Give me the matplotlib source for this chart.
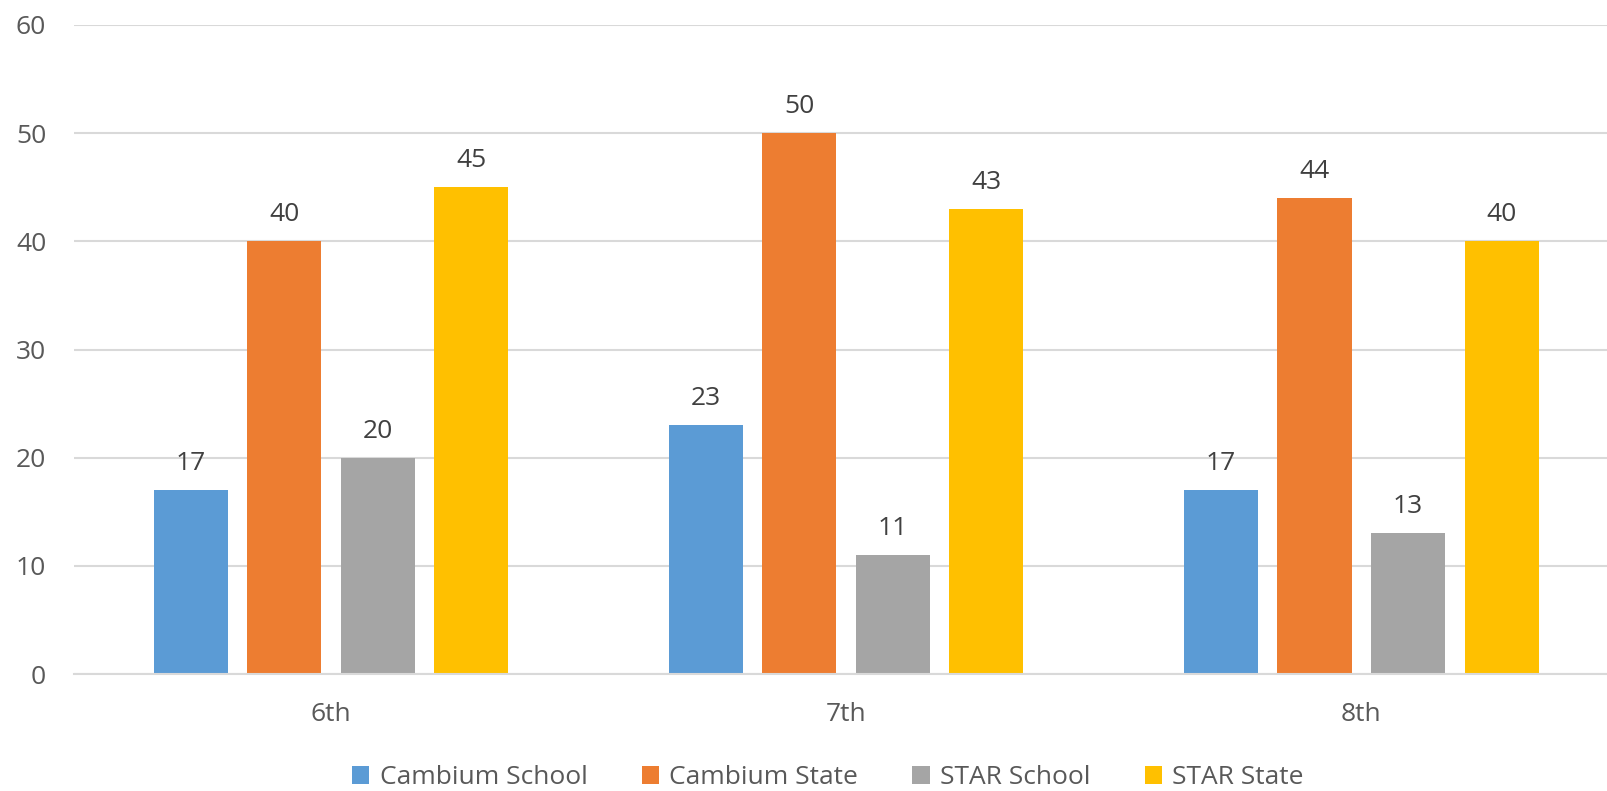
import numpy as np
import matplotlib
matplotlib.use("Agg")
import matplotlib.pyplot as plt

grades = ["6th", "7th", "8th"]
series_names = ["Cambium School", "Cambium State", "STAR School", "STAR State"]
cambium_school = [17, 23, 17]
cambium_state = [40, 50, 44]
star_school = [20, 11, 13]
star_state = [45, 43, 40]
colors = ["#5B9BD5", "#ED7D31", "#A5A5A5", "#FFC000"]

plt.rcParams["font.family"] = ["Open Sans", "DejaVu Sans"]

fig = plt.figure(figsize=(16.08, 7.91), dpi=100)
ax = fig.add_axes([74 / 1608, 1 - 674 / 791, 1 - 74 / 1608, (674 - 25) / 791])

x = np.arange(len(grades))
slot = 0.1816
width = 0.1437
all_series = [cambium_school, cambium_state, star_school, star_state]
for i, vals in enumerate(all_series):
    pos = x + (i - 1.5) * slot
    bars = ax.bar(pos, vals, width, color=colors[i], label=series_names[i], zorder=3)
    for b, v in zip(bars, vals):
        ax.annotate(str(v), (b.get_x() + b.get_width() / 2, v), xytext=(0, 10),
                    textcoords="offset points", ha="center", va="bottom",
                    fontsize=19, color="#404040")

ax.set_xlim(-0.499, 2.479)
ax.set_ylim(0, 60)
ax.set_yticks(range(0, 61, 10))
ax.set_xticks(x)
ax.set_xticklabels(grades)
ax.yaxis.grid(True, color="#D9D9D9", linewidth=1.5, zorder=0)
ax.set_axisbelow(True)
for s in ax.spines.values():
    s.set_visible(False)
ax.tick_params(axis="y", length=0, pad=20, labelsize=19, labelcolor="#595959")
ax.tick_params(axis="x", length=0, pad=20, labelsize=19, labelcolor="#595959")
ax.axhline(0, color="#D9D9D9", linewidth=1.5, zorder=4, clip_on=False)

fig.legend(loc="center", bbox_to_anchor=(828 / 1608, 1 - 778 / 791), ncol=4,
           frameon=False, fontsize=19, labelcolor="#595959",
           handlelength=0.65, handleheight=0.65, handletextpad=0.4, columnspacing=2.05)

fig.savefig("out.png", dpi=100)
